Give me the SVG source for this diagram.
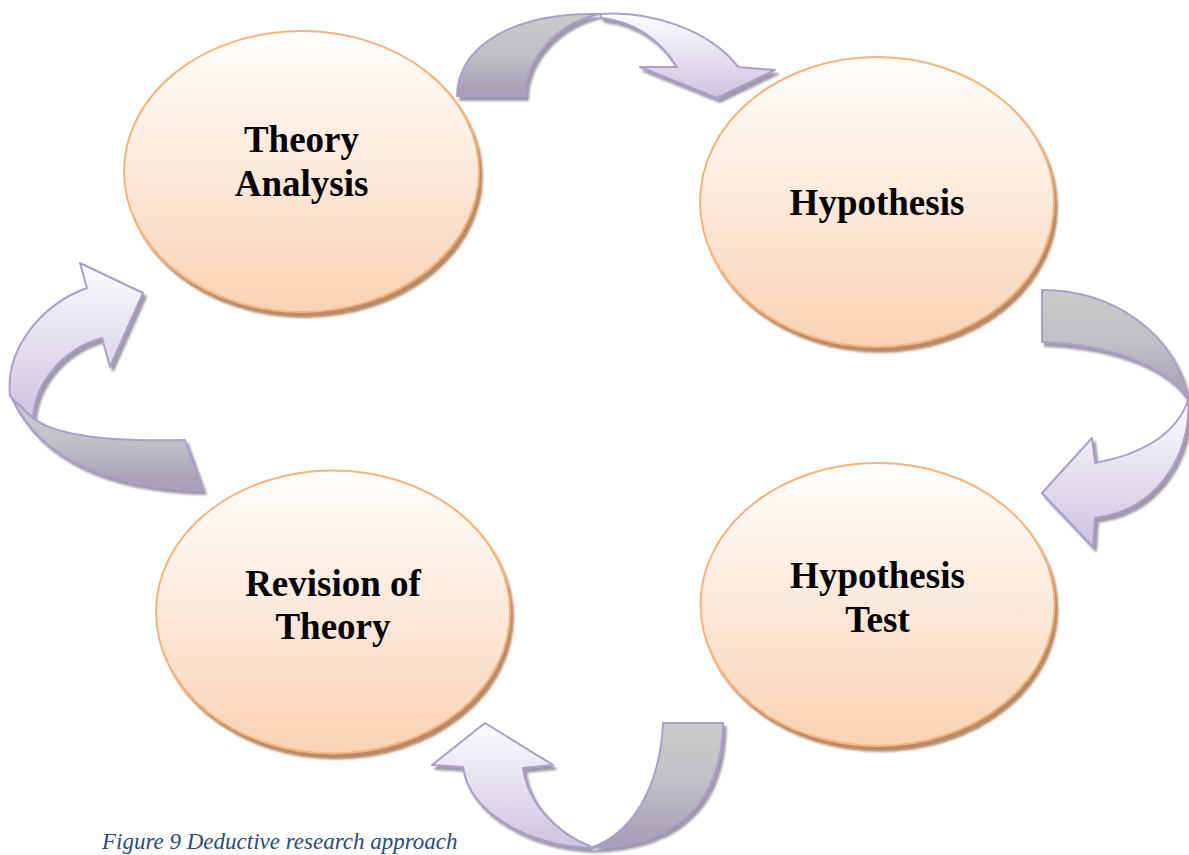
<svg xmlns="http://www.w3.org/2000/svg" width="1189" height="855" viewBox="0 0 1189 855">
  <style>
    .node ellipse { fill: url(#nodeFill); stroke: #f6b37a; stroke-width: 2; filter: url(#nodeShadow); }
    .label { font-family: "Liberation Serif", "Times New Roman", serif; font-weight: bold; font-size: 37px; text-anchor: middle; fill: #000; }
    .arrow { filter: url(#arrowShadow); }
    .tail { fill: url(#tailFill); stroke: #ab9ecb; stroke-width: 2; stroke-linejoin: round; }
    .head { fill: url(#headFill); stroke: #ab9ecb; stroke-width: 2; stroke-linejoin: round; }
    .caption { font-family: "Liberation Serif", "Times New Roman", serif; font-style: italic; font-size: 23px; fill: #2b4a7c; }
  </style>
  <defs>
    <linearGradient id="nodeFill" x1="0" y1="0" x2="0" y2="1">
      <stop offset="0" stop-color="#fffefd"/>
      <stop offset="0.5" stop-color="#fde9da"/>
      <stop offset="1" stop-color="#f9d2b2"/>
    </linearGradient>
    <linearGradient id="tailFill" x1="0" y1="0" x2="0" y2="1">
      <stop offset="0" stop-color="#cbcbcb"/>
      <stop offset="0.45" stop-color="#c2c0c6"/>
      <stop offset="1" stop-color="#a59db5"/>
    </linearGradient>
    <linearGradient id="headFill" x1="0" y1="0" x2="0" y2="1">
      <stop offset="0" stop-color="#fdfcff"/>
      <stop offset="1" stop-color="#cdc3de"/>
    </linearGradient>
    <filter id="nodeShadow" x="-10%" y="-10%" width="125%" height="125%">
      <feDropShadow dx="3" dy="5" stdDeviation="1" flood-color="#b38462" flood-opacity="0.95"/>
    </filter>
    <filter id="arrowShadow" x="-10%" y="-10%" width="125%" height="125%">
      <feDropShadow dx="3" dy="4" stdDeviation="0.8" flood-color="#8f8799" flood-opacity="0.85"/>
    </filter>
  </defs>

  <!-- stages of the cycle -->
  <g id="theory-analysis" class="node">
    <ellipse cx="301.5" cy="171.5" rx="177.5" ry="140.5"/>
    <text class="label" x="301.5" y="152">Theory</text>
    <text class="label" x="301.5" y="196">Analysis</text>
  </g>
  <g id="hypothesis" class="node">
    <ellipse cx="877" cy="202" rx="177" ry="145"/>
    <text class="label" x="877" y="215">Hypothesis</text>
  </g>
  <g id="hypothesis-test" class="node">
    <ellipse cx="877.5" cy="604.5" rx="177" ry="141.5"/>
    <text class="label" x="877.5" y="588">Hypothesis</text>
    <text class="label" x="877.5" y="632">Test</text>
  </g>
  <g id="revision-of-theory" class="node">
    <ellipse cx="333" cy="612" rx="177" ry="141.5"/>
    <text class="label" x="333" y="596">Revision of</text>
    <text class="label" x="333" y="639">Theory</text>
  </g>

  <!-- curved arrows linking the stages clockwise -->
  <g id="connectors">
    <g class="arrow" id="arrow-analysis-hypothesis">
      <path class="tail" d="M457,96 C458,45 515,12 600,14 C560,22 526,55 525,96 Z"/>
      <path class="head" d="M600,14 C650,10 710,30 738,67 L775,70 L717,98 L640,67 L677,67 C660,40 635,22 602,18 Z"/>
    </g>
    <g class="arrow" id="arrow-hypothesis-test">
      <path class="tail" d="M1042,290 C1110,290 1175,330 1188,400 C1170,370 1120,345 1042,342 Z"/>
      <path class="head" d="M1188,400 C1192,450 1160,510 1095,518 L1093,547 L1042,493 L1092,438 L1095,463 C1140,455 1175,435 1187,403 Z"/>
    </g>
    <g class="arrow" id="arrow-test-revision">
      <path class="tail" d="M663,723 L723,723 C722,790 690,846 590,848 C630,835 660,790 663,723 Z"/>
      <path class="head" d="M590,848 C530,845 470,815 463,767 L432,765 L485,723 L553,765 L523,768 C528,805 560,835 590,846 Z"/>
    </g>
    <g class="arrow" id="arrow-revision-analysis">
      <path class="tail" d="M12,398 C40,460 110,488 203,490 L185,440 C110,442 55,435 33,418 Z"/>
      <path class="head" d="M33,418 C35,385 60,350 102,338 L110,367 L143,293 L80,263 L87,288 C40,305 5,350 10,396 Z"/>
    </g>
  </g>

  <text class="caption" x="102" y="849">Figure 9 Deductive research approach</text>
</svg>
